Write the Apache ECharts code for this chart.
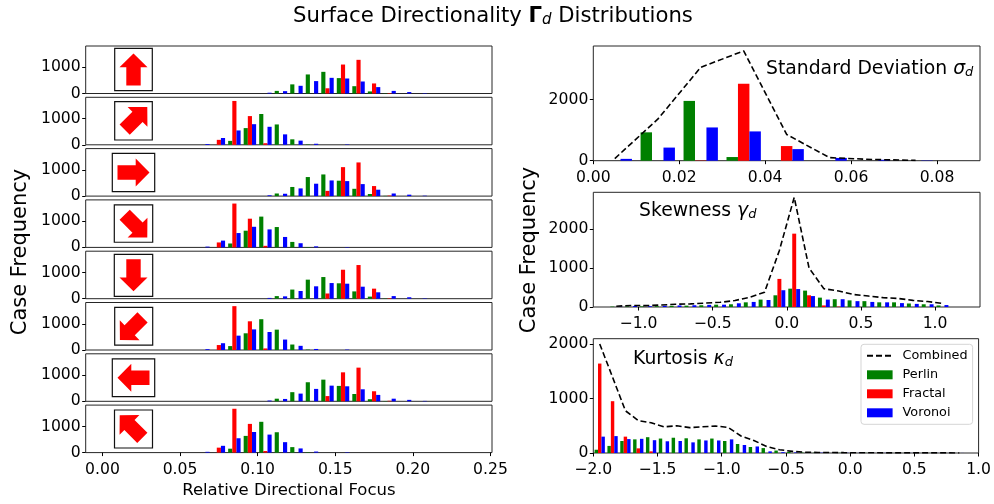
<!DOCTYPE html>
<html><head><meta charset="utf-8">
<style>html,body{margin:0;padding:0;background:#fff}#c{width:994px;height:504px}</style>
<script src="https://cdn.jsdelivr.net/npm/echarts@6/dist/echarts.min.js"></script>
</head><body><div id="c"></div>
<script>
// ---------- data ----------
const focusBins = [0.065,0.075,0.085,0.095,0.105,0.115,0.125,0.135,0.145,0.155,0.165,0.175,0.185,0.195,0.205];
// cardinal panels (up, right, down, left)
const cardPerlin  = [0,0,0,0,0,100,350,730,830,590,280,80,10,0,0];
const cardFractal = [0,0,0,0,0,0,0,0,200,1110,1290,385,20,0,0];
const cardVoronoi = [0,0,0,0,30,90,295,475,600,575,460,245,100,55,15];
// diagonal panels
const diagPerlin  = [0,0,150,640,1180,780,210,15,0,0,0,0,0,0,0];
const diagFractal = [0,190,1680,1100,60,0,0,0,0,0,0,0,0,0,0];
const diagVoronoi = [30,260,550,790,690,400,160,40,0,15,0,0,0,0,0];
const focusTicks = [0,0.05,0.10,0.15,0.20,0.25];
const focusCountTicks = [0,1000];

const stdBins = [0.005,0.015,0.025,0.035,0.045,0.055,0.065,0.075];
const stdPerlin  = [0,930,1960,120,0,0,0,0];
const stdFractal = [0,0,10,2520,480,0,0,0];
const stdVoronoi = [60,430,1090,960,380,90,30,10];
const stdCombined= [70,1360,3060,3600,860,100,40,10];
const stdTicks = [0,0.02,0.04,0.06,0.08];
const stdCountTicks = [0,2000];

const skewBins = [-1.15,-1.05,-0.95,-0.85,-0.75,-0.65,-0.55,-0.45,-0.35,-0.25,-0.15,-0.05,0.05,0.15,0.25,0.35,0.45,0.55,0.65,0.75,0.85,0.95,1.05];
const skewPerlin  = [10,15,15,20,30,35,45,60,70,120,190,300,470,420,240,200,170,150,120,120,90,70,40];
const skewFractal = [0,0,0,0,0,0,0,0,0,0,10,720,1880,300,40,10,0,0,0,0,0,0,0];
const skewVoronoi = [10,25,20,30,40,45,55,60,95,130,180,430,460,280,190,200,150,130,120,100,80,70,50];
const skewCombined= [20,40,35,50,70,80,100,120,165,250,380,1450,2810,1000,470,410,320,280,240,220,170,140,90];
const skewTicks = [-1,-0.5,0,0.5,1];
const skewCountTicks = [0,1000,2000];

const kurtBins = [-1.95,-1.85,-1.75,-1.65,-1.55,-1.45,-1.35,-1.25,-1.15,-1.05,-0.95,-0.85,-0.75,-0.65,-0.55,-0.45,-0.35,-0.25,-0.15,-0.05,0.05,0.15,0.25,0.35,0.45,0.55,0.65,0.75,0.85];
const kurtPerlin  = [60,130,220,250,290,265,280,270,250,265,220,165,110,90,45,20,8,5,4,3,2,2,1,1,1,1,1,1,0];
const kurtFractal = [1640,950,300,85,30,0,0,0,0,0,0,0,0,0,0,0,0,0,0,0,0,0,0,0,0,0,0,0,0];
const kurtVoronoi = [300,310,255,260,235,215,220,195,230,230,250,147,120,30,15,10,7,5,4,3,3,2,2,1,1,1,1,1,1];
const kurtCombined= [2000,1390,775,595,555,480,500,465,480,495,470,312,230,120,60,30,15,10,8,6,5,4,3,2,2,2,2,2,1];
const kurtTicks = [-2,-1.5,-1,-0.5,0,0.5,1];
const kurtCountTicks = [0,1000,2000];

// ---------- layout & style ----------
const FONT = 'DejaVu Sans';
const GREEN='#008000', RED='#ff0000', BLUE='#0000ff';
const leftX=85.7, leftW=406.3, rightX=593.3, rightW=386.7;
const panelTops=[46,97.3,148.6,199.9,251.2,302.5,353.8,405.1], panelH=47.5;
const zip=(xs,ys)=>xs.map((x,i)=>[x,ys[i]]);
const minus=s=>String(s).replace('-','\u2212');

const grids=[],xAxes=[],yAxes=[],series=[];
function addPanel(cfg){
  const idx=grids.length;
  grids.push({left:cfg.x,top:cfg.top,width:cfg.w,height:cfg.h,show:true,borderColor:'#262626',borderWidth:1,backgroundColor:'#fff'});
  xAxes.push({type:'value',gridIndex:idx,min:cfg.xMin,max:cfg.xMax,splitLine:{show:false},axisLine:{show:false,onZero:false},
    axisTick:{show:!!cfg.xTicks,length:3.5,customValues:cfg.xTicks||[],lineStyle:{color:'#000',width:1}},
    axisLabel:{show:!!cfg.xTicks,customValues:cfg.xTicks||[],margin:9,fontFamily:FONT,fontSize:15.6,color:'#000',hideOverlap:false,
      formatter:v=>minus(v.toFixed(cfg.dec))},
    name:cfg.xName||'',nameLocation:'middle',nameGap:cfg.xName?30:0,nameTextStyle:{fontFamily:FONT,fontSize:16.5,color:'#000'}});
  yAxes.push({type:'value',gridIndex:idx,min:0,max:cfg.yMax,splitLine:{show:false},axisLine:{show:false,onZero:false},
    axisTick:{show:true,length:3.5,customValues:cfg.yTicks,lineStyle:{color:'#000',width:1}},
    axisLabel:{customValues:cfg.yTicks,margin:5,padding:[3,0,0,0],fontFamily:FONT,fontSize:15.6,color:'#000',hideOverlap:false,formatter:v=>String(v)}});
  const pairs=[['Perlin',GREEN,cfg.p],['Fractal',RED,cfg.f],['Voronoi',BLUE,cfg.v]];
  pairs.forEach(([name,color,vals])=>series.push({type:'bar',name,xAxisIndex:idx,yAxisIndex:idx,barWidth:cfg.bw,barGap:0,
    itemStyle:{color},data:zip(cfg.bins,vals),silent:true,clip:true}));
  if(cfg.c) series.push({type:'line',name:'Combined',xAxisIndex:idx,yAxisIndex:idx,data:zip(cfg.bins,cfg.c),symbol:'none',z:5,
    lineStyle:{color:'#000',width:1.6,type:[6,3]},itemStyle:{color:'#000'}});
}
panelTops.forEach((top,i)=>{
  const card=i%2===0;
  addPanel({x:leftX,top,w:leftW,h:panelH,xMin:-0.0108,xMax:0.251,yMax:1820,yTicks:focusCountTicks,bw:4.15,
    bins:focusBins,p:card?cardPerlin:diagPerlin,f:card?cardFractal:diagFractal,v:card?cardVoronoi:diagVoronoi,
    xTicks:i===7?focusTicks:null,dec:2,xName:i===7?'Relative Directional Focus':''});
});
addPanel({x:rightX,top:46,w:rightW,h:114.7,xMin:0,xMax:0.09,yMax:3760,yTicks:stdCountTicks,bw:11.45,
  bins:stdBins,p:stdPerlin,f:stdFractal,v:stdVoronoi,c:stdCombined,xTicks:stdTicks,dec:2});
addPanel({x:rightX,top:192.3,w:rightW,h:114.7,xMin:-1.305,xMax:1.303,yMax:2940,yTicks:skewCountTicks,bw:3.95,
  bins:skewBins,p:skewPerlin,f:skewFractal,v:skewVoronoi,c:skewCombined,xTicks:skewTicks,dec:1});
addPanel({x:rightX,top:338.7,w:rightW,h:114.3,xMin:-2,xMax:1,yMax:2096,yTicks:kurtCountTicks,bw:3.43,
  bins:kurtBins,p:kurtPerlin,f:kurtFractal,v:kurtVoronoi,c:kurtCombined,xTicks:kurtTicks,dec:1});

// arrow insets: [centre x, centre y, box w, box h, heading degrees clockwise from up]
const arrowInsets=[[133.5,69.5,37.6,42.4,0],[133.5,120.85,37.6,38.3,45],[133.5,172.5,42.4,38.4,90],[133.5,223.6,38.4,37.3,135],
  [133.5,275.3,38.4,42,180],[133.7,326.2,38,37.7,225],[133.5,377.8,42.4,37.7,270],[133.5,429,38,38,315]];
const arrowShape=[[0,-16],[14,-2.2],[7.2,-2.2],[7.2,16],[-7.2,16],[-7.2,-2.2],[-14,-2.2]];
const graphics=[];
arrowInsets.forEach(([cx,cy,w,h,deg])=>{
  const t=deg*Math.PI/180;
  const pts=arrowShape.map(([x,y])=>[x*Math.cos(t)-y*Math.sin(t),x*Math.sin(t)+y*Math.cos(t)]);
  const xs=pts.map(p=>p[0]),ys=pts.map(p=>p[1]);
  const mx=(Math.min(...xs)+Math.max(...xs))/2,my=(Math.min(...ys)+Math.max(...ys))/2;
  graphics.push({type:'rect',z:10,silent:true,shape:{x:cx-w/2,y:cy-h/2,width:w,height:h},style:{fill:'#fff',stroke:'#111',lineWidth:1.2}});
  graphics.push({type:'polygon',z:11,silent:true,shape:{points:pts.map(p=>[p[0]-mx+cx,p[1]-my+cy])},style:{fill:'#ff0000'}});
});
const subStyle={fontFamily:FONT,fontStyle:'italic',fontSize:13,fill:'#000',verticalAlign:'bottom',lineHeight:20,padding:[7,0,0,0]};
function note(x,y,text,size,extra){
  graphics.push(Object.assign({type:'text',z:12,silent:true,x,y,style:{text,fontFamily:FONT,fontSize:size,fill:'#000',textVerticalAlign:'middle',
    rich:{i:{fontFamily:FONT,fontStyle:'italic',fontSize:size,fill:'#000'},s:subStyle}}},extra||{}));
}
note(766,69,'Standard Deviation {i|\u03c3}{s|d}',18.8);
note(639,211.5,'Skewness {i|\u03b3}{s|d}',18.8);
note(633,359,'Kurtosis {i|\u03ba}{s|d}',18.8);
[[21,252],[529.5,250]].forEach(([x,y])=>graphics.push({type:'text',z:12,silent:true,x,y,rotation:Math.PI/2,
  style:{text:'Case Frequency',fontFamily:FONT,fontSize:21,fill:'#000',align:'center',verticalAlign:'middle'}}));

const chart=echarts.init(document.getElementById('c'),null,{renderer:'canvas'});
chart.setOption({
  animation:false,
  backgroundColor:'#fff',
  title:{text:'Surface Directionality {b|\u0393}{s|d} Distributions',left:288,top:-1,
    textStyle:{fontFamily:FONT,fontWeight:'normal',fontSize:21.2,color:'#000',
      rich:{b:{fontFamily:FONT,fontWeight:'bold',fontSize:21.2,color:'#000'},
            s:{fontFamily:FONT,fontStyle:'italic',fontSize:15,color:'#000',verticalAlign:'bottom',lineHeight:24,padding:[7,0,0,0]}}}},
  legend:{data:[{name:'Combined',itemStyle:{color:'rgba(0,0,0,0)',borderColor:'rgba(0,0,0,0)',opacity:0}},
      {name:'Perlin',icon:'rect'},{name:'Fractal',icon:'rect'},{name:'Voronoi',icon:'rect'}],
    orient:'vertical',left:861,top:344.3,itemWidth:25.6,itemHeight:9,itemGap:6,
    padding:[5,5,5,5],backgroundColor:'rgba(255,255,255,0.8)',borderColor:'#d5d5d5',borderWidth:1,borderRadius:3,
    textStyle:{fontFamily:FONT,fontSize:12.8,color:'#000',padding:[0,0,0,5]},selectedMode:false,z:20},
  grid:grids,xAxis:xAxes,yAxis:yAxes,series,graphic:graphics
});
</script></body></html>
